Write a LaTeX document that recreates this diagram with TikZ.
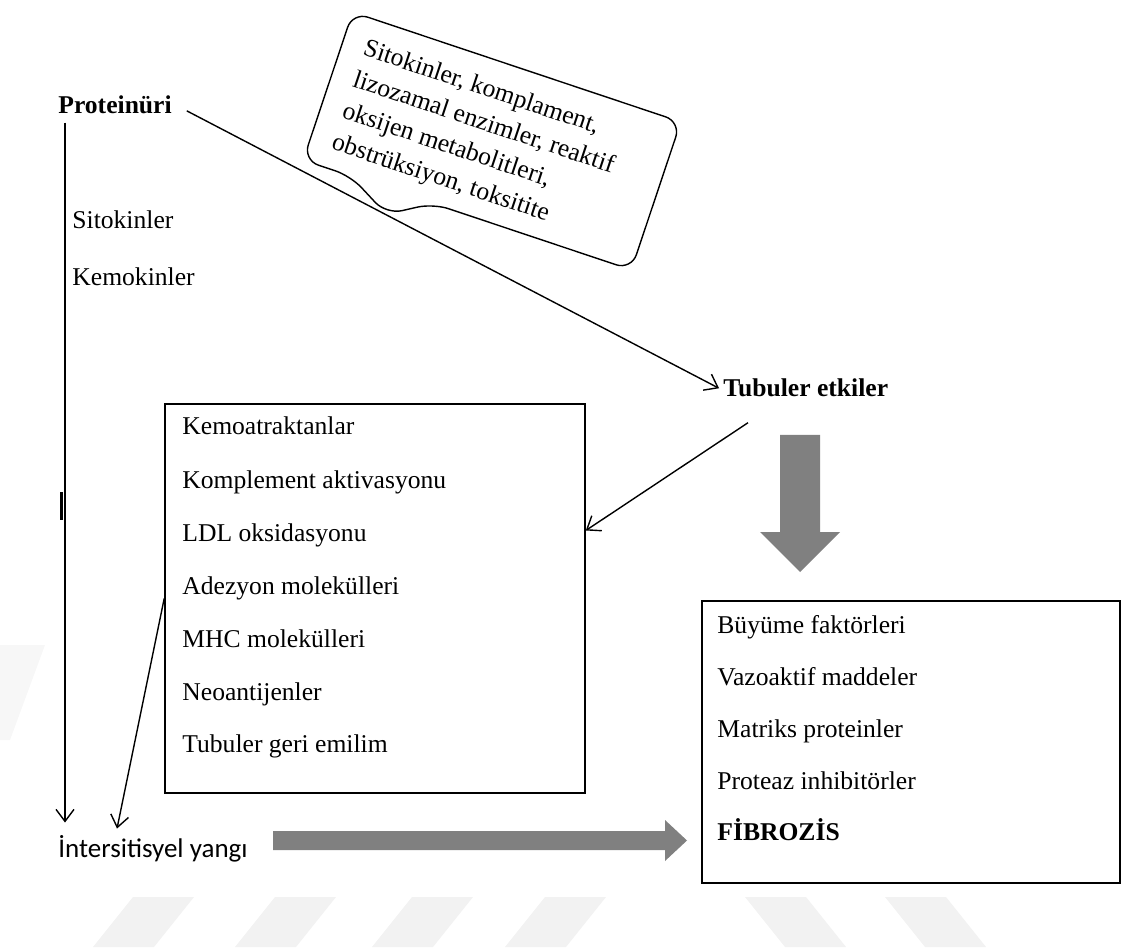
\documentclass[tikz,border=0pt]{standalone}
\usepackage{fontspec}
\setmainfont{Liberation Serif}
\newfontfamily\carlito{Carlito}
\usetikzlibrary{arrows.meta}

\tikzset{
  txt/.style={inner sep=2pt, anchor=base west, font=\fontsize{12.8}{15}\selectfont},
  txtb/.style={txt, font=\fontsize{12.8}{15}\selectfont\bfseries},
  ok/.style={line width=0.7pt, -{Straight Barb[length=6pt,width=9pt]}},
  kutu/.style={draw, line width=0.8pt, inner sep=0pt},
  kalin/.style={fill=black!50, draw=none},
  iz/.style={fill=black!5, draw=none}
}

\begin{document}
\begin{tikzpicture}[x=0.5pt,y=-0.5pt]
\useasboundingbox (0,0) rectangle (1123,951);
%WATERMARK
\fill[black!3] (-40,740) -- (10,740) -- (45,645) -- (-5,645) -- cycle;
\fill[iz] (93,947) -- (154,947) -- (194,897) -- (133,897) -- cycle;
\fill[iz] (235,947) -- (296,947) -- (336,897) -- (275,897) -- cycle;
\fill[iz] (372,947) -- (433,947) -- (473,897) -- (412,897) -- cycle;
\fill[iz] (505,947) -- (566,947) -- (606,897) -- (545,897) -- cycle;
\fill[iz] (745,897) -- (806,897) -- (846,947) -- (785,947) -- cycle;
\fill[iz] (885,897) -- (946,897) -- (986,947) -- (925,947) -- cycle;

%TOP
\node[txtb] (prot) at (54,114) {Proteinüri};
\node[txt] (sito) at (68,229) {Sitokinler};
\node[txt] (kemok) at (68,286) {Kemokinler};
\node[txtb] (tub) at (719,397) {Tubuler etkiler};
% callout
\begin{scope}[shift={(492,141)}, rotate=-18.5]
\draw[line width=0.7pt, rounded corners=8pt] (0,-78) -- (173,-78) -- (173,78) -- (-36,78) -- (-77,103) -- (-123,78) -- (-173,78) -- (-173,-78) -- cycle;
\node[transform shape, anchor=west, align=left, inner sep=0pt, font=\fontsize{12.8}{16.5}\selectfont] (balon) at (-151,3) {Sitokinler, komplament,\\lizozamal enzimler, reaktif\\oksijen metabolitleri,\\obstrüksiyon, toksitite};
\end{scope}

%LEFT BOX
\node[kutu, minimum width=210pt, minimum height=194.5pt] (kutu1) at (375,598.5) {};
\node[txt] (kemo) at (178,435) {Kemoatraktanlar};
\node[txt] (kompl) at (178,488) {Komplement aktivasyonu};
\node[txt] (ldl) at (178,541) {LDL oksidasyonu};
\node[txt] (adez) at (178,594) {Adezyon molekülleri};
\node[txt] (mhc) at (178,647) {MHC molekülleri};
\node[txt] (neo) at (178,700) {Neoantijenler};
\node[txt] (geri) at (178,752) {Tubuler geri emilim};

%RIGHT BOX
\node[kutu, minimum width=209pt, minimum height=141pt] (kutu2) at (911,742) {};
\node[txt] (buyume) at (713,633) {Büyüme faktörleri};
\node[txt] (vazo) at (713,685) {Vazoaktif maddeler};
\node[txt] (matr) at (713,737) {Matriks proteinler};
\node[txt] (prote) at (713,789) {Proteaz inhibitörler};
\node[txtb] (fib) at (713,840) {FİBROZİS};

%BOT
\node[inner sep=2pt, anchor=base west, font=\carlito\fontsize{13.5}{16}\selectfont] (inter) at (54,857) {İntersitisyel yangı};

% arrows
\draw[ok, shorten <=2pt, shorten >=4pt] ([xshift=5.5pt]prot.south west) -- ([xshift=5.5pt]prot.south west |- inter.north);
\draw[ok, shorten <=6pt] (prot.east) -- (tub.west);
\draw[ok] ([shift={(14.5pt,-10.5pt)}]tub.south west) -- ([yshift=34pt]kutu1.east);
\draw[ok] (kutu1.west) -- ([xshift=-18pt,yshift=1pt]inter.north);
\draw[line width=1.5pt] (61,492) -- (61,520);

% big arrows
\fill[kalin] (780,435) -- (820,435) -- (820,532) -- (840,532) -- (800,572) -- (760,532) -- (780,532) -- cycle;
\fill[kalin] (273,831) -- (665,831) -- (665,820) -- (687,840.5) -- (665,861) -- (665,850) -- (273,850) -- cycle;
\end{tikzpicture}
\end{document}
